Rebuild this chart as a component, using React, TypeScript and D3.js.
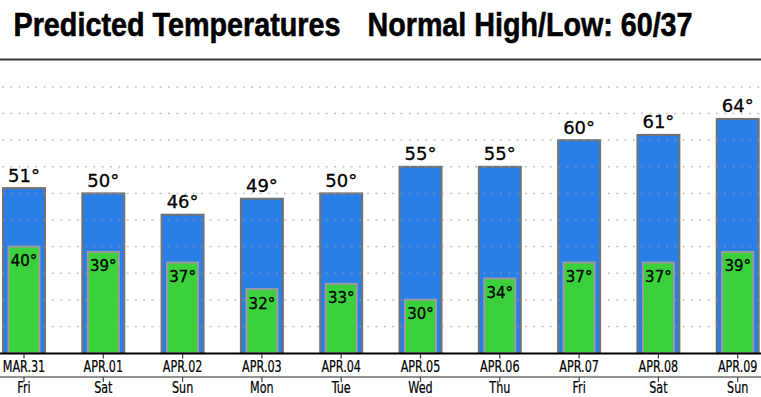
import React from 'react';
import * as d3 from 'd3';

const dates = ['MAR.31', 'APR.01', 'APR.02', 'APR.03', 'APR.04', 'APR.05', 'APR.06', 'APR.07', 'APR.08', 'APR.09'];
const days = ['Fri', 'Sat', 'Sun', 'Mon', 'Tue', 'Wed', 'Thu', 'Fri', 'Sat', 'Sun'];
const highs = [51, 50, 46, 49, 50, 55, 55, 60, 61, 64];
const lows = [40, 39, 37, 32, 33, 30, 34, 37, 37, 39];
const gridTicks = [25, 30, 35, 40, 45, 50, 55, 60, 65, 70];

const W = 761;
const H = 397;

export default function App() {
  // category centres: the outer bands run past both edges of the picture
  const x = d3.scalePoint<string>().domain(dates).range([24, 737.7]);
  const y = d3.scaleLinear().domain([20, 70]).range([353, 87]);

  const hiW = 42;
  const loW = 31;
  const base = y(20);

  return (
    <svg width={W} height={H} style={{ position: 'absolute', left: 0, top: 0, background: '#fff' }}>
      {/* title, narrow bold */}
      <g fontFamily="'Liberation Sans Narrow', 'Liberation Sans', Arial, sans-serif" fontWeight="bold" fontSize={34}
        fill="#000" stroke="#000" strokeWidth={0.6}>
        <text x={13.5} y={36} textLength={327} lengthAdjust="spacingAndGlyphs">Predicted Temperatures</text>
        <text x={367.5} y={36} textLength={325} lengthAdjust="spacingAndGlyphs">Normal High/Low: 60/37</text>
      </g>
      <line x1={0} x2={W} y1={59.5} y2={59.5} stroke="#333" strokeWidth={2} />

      {/* high bars */}
      {dates.map((d, i) => (
        <rect key={'h' + d} x={x(d)! - hiW / 2} y={y(highs[i])} width={hiW} height={base - y(highs[i])}
          fill="#2a7fe6" stroke="#737373" strokeWidth={2} />
      ))}

      {/* dotted grid */}
      {gridTicks.map((t) => (
        <line key={t} x1={2} x2={W} y1={y(t)} y2={y(t)} stroke="#9a9a9a" strokeOpacity={0.6}
          strokeWidth={1.5} strokeDasharray="2 6.3" />
      ))}

      {/* low bars */}
      {dates.map((d, i) => (
        <rect key={'l' + d} x={x(d)! - loW / 2} y={y(lows[i])} width={loW} height={base - y(lows[i])}
          fill="#3ad13c" stroke="#9c9c9c" strokeWidth={2} />
      ))}

      {/* value labels */}
      <g fontFamily="'DejaVu Sans', Verdana, sans-serif" fill="#000" stroke="#000" strokeWidth={0.3} textAnchor="middle">
        {dates.map((d, i) => (
          <text key={'ht' + d} x={x(d)} y={y(highs[i]) - 6.5} fontSize={18}>{highs[i]}°</text>
        ))}
        {dates.map((d, i) => (
          <text key={'lt' + d} x={x(d)} y={y(lows[i]) + 19.5} fontSize={15}>{lows[i]}°</text>
        ))}
      </g>

      {/* axes */}
      <line x1={0} x2={W} y1={353.5} y2={353.5} stroke="#000" strokeWidth={2} />
      <line x1={0} x2={W} y1={377} y2={377} stroke="#6e6e6e" strokeWidth={1.5} />
      {dates.map((d) => (
        <g key={'tk' + d}>
          <line x1={x(d)} x2={x(d)} y1={354} y2={358.5} stroke="#333" strokeWidth={1.2} />
          <line x1={x(d)} x2={x(d)} y1={377} y2={382} stroke="#444" strokeWidth={1.2} />
        </g>
      ))}
      <g fontFamily="'DejaVu Sans', Verdana, sans-serif" fill="#000" stroke="#000" strokeWidth={0.25}
        textAnchor="middle" fontSize={16}>
        {dates.map((d) => (
          <text key={'dl' + d} transform={`translate(${x(d)},371.5) scale(0.7,1)`}>{d}</text>
        ))}
        {days.map((d, i) => (
          <text key={'dy' + i} transform={`translate(${x(dates[i])},393) scale(0.7,1)`}>{d}</text>
        ))}
      </g>
    </svg>
  );
}
